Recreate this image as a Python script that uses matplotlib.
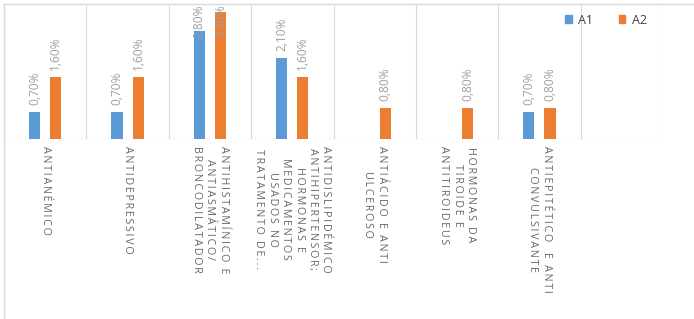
import numpy as np
import matplotlib
matplotlib.use("Agg")
import matplotlib.pyplot as plt
from matplotlib.lines import Line2D
from matplotlib.patches import Patch

# dados
categorias = [
    "ANTIANÉMICO",
    "ANTIDEPRESSIVO",
    "ANTIHISTAMÍNICO E\nANTIASMÁTICO/\nBRONCODILATADOR",
    "ANTIDISLIPIDÉMICO\nANTIHIPERTENSOR;\nHORMONAS E\nMEDICAMENTOS\nUSADOS NO\nTRATAMENTO DE...",
    "ANTIÁCIDO E ANTI\nULCEROSO",
    "HORMONAS DA\nTIROIDE E\nANTITIROIDEUS",
    "ANTIEPITÉTICO  E ANTI\nCONVULSIVANTE",
    "",
]
a1 = [0.7, 0.7, 2.8, 2.1, np.nan, np.nan, 0.7, np.nan]
a2 = [1.6, 1.6, 3.3, 1.6, 0.8, 0.8, 0.8, np.nan]
series_nomes = ["A1", "A2"]

azul = "#5b9bd5"
laranja = "#ed7d31"
cinza_linha = "#d9d9d9"

plt.rcParams['font.family'] = ['Open Sans', 'DejaVu Sans']

W, H = 694, 319
fig = plt.figure(figsize=(W / 100, H / 100), dpi=100)

# area do grafico (pixels)
left, right, top, bottom = 4, 663, 4, 139
ax = fig.add_axes([left / W, 1 - bottom / H, (right - left) / W, (bottom - top) / H])

n = len(categorias)
x = np.arange(n)
w = 0.135
off = 0.128

ax.bar(x - off, a1, w, color=azul, zorder=3)
ax.bar(x + off, a2, w, color=laranja, zorder=3)

ymax = 3.5
ax.set_xlim(-0.5, n - 0.5)
ax.set_ylim(0, ymax)

# rotulos de dados
def rotulo(xp, v):
    if np.isnan(v):
        return
    txt = f"{v:.2f}%".replace(".", ",")
    if v + 0.18 + 0.85 > ymax - 0.03:
        ax.text(xp, ymax - 0.02, txt, rotation=90, ha='center', va='top',
                fontsize=8.6, color="#a0a0a0", zorder=4)
    else:
        ax.text(xp, v + 0.18, txt, rotation=90, ha='center', va='bottom',
                fontsize=8.6, color="#a0a0a0", zorder=4)

for i in range(n):
    rotulo(x[i] - off, a1[i])
    rotulo(x[i] + off, a2[i])

# linhas de grade verticais entre categorias
for b in np.arange(-0.5, n, 1.0):
    ax.axvline(b, color=cinza_linha, lw=0.8, zorder=1)

for s in ax.spines.values():
    s.set_visible(False)
ax.axhline(0, color=cinza_linha, lw=0.9, zorder=2)
ax.set_yticks([])

# texto espacado
def espacar(s):
    linhas = []
    for ln in s.split("\n"):
        linhas.append("\u2009".join(list(ln)))
    return "\n".join(linhas)

ax.set_xticks(x)
ax.set_xticklabels([espacar(c) for c in categorias], rotation=270,
                   fontsize=7.7, color="#666666", linespacing=1.3,
                   multialignment='center', va='top', ha='center')
ax.tick_params(axis='x', length=0, pad=5)

# borda do grafico
fig.add_artist(Line2D([left / W, left / W], [0, 1 - top / H], color=cinza_linha, lw=1.0))
fig.add_artist(Line2D([left / W, 1], [1 - top / H, 1 - top / H], color=cinza_linha, lw=1.0))

# legenda
handles = [Patch(color=azul), Patch(color=laranja)]
fig.legend(handles, series_nomes, loc='center', bbox_to_anchor=(606 / W, 1 - 20 / H),
           ncol=2, frameon=False, fontsize=9, handlelength=0.55, handleheight=0.55,
           handletextpad=0.5, columnspacing=2.0, labelcolor="#404040")

fig.savefig("out.png", dpi=100)
